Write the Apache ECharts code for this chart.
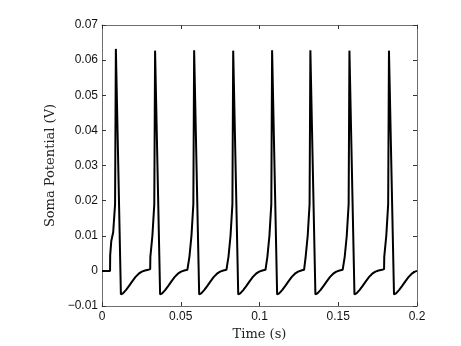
<!DOCTYPE html>
<html>
<head>
<meta charset="utf-8">
<script src="https://cdn.jsdelivr.net/npm/echarts@6/dist/echarts.min.js"></script>
<style>
  html, body { margin: 0; padding: 0; background: #fff; }
  #chart { width: 461px; height: 346px; }
</style>
</head>
<body>
<div id="chart"></div>
<script>
// time axis (s) and soma potential (V)
var timeS = [
  0.0000, 0.0051, 0.0052, 0.0059, 0.0071, 0.0083, 0.0088, 0.0092, 0.0120, 0.0133, 0.0153, 0.0173, 0.0193, 0.0213, 0.0233, 0.0253, 0.0273, 0.0293,
  0.0306, 0.0307, 0.0320, 0.0332, 0.0337, 0.0341, 0.0369, 0.0382, 0.0402, 0.0422, 0.0442, 0.0462, 0.0482, 0.0502, 0.0522, 0.0542,
  0.0554, 0.0555, 0.0568, 0.0580, 0.0585, 0.0589, 0.0617, 0.0630, 0.0650, 0.0670, 0.0690, 0.0710, 0.0730, 0.0750, 0.0770, 0.0790,
  0.0802, 0.0803, 0.0816, 0.0828, 0.0833, 0.0837, 0.0865, 0.0878, 0.0898, 0.0918, 0.0938, 0.0958, 0.0978, 0.0998, 0.1018, 0.1038,
  0.1049, 0.1050, 0.1063, 0.1075, 0.1080, 0.1084, 0.1112, 0.1125, 0.1145, 0.1165, 0.1185, 0.1205, 0.1225, 0.1245, 0.1265, 0.1283,
  0.1292, 0.1293, 0.1306, 0.1318, 0.1323, 0.1327, 0.1355, 0.1368, 0.1388, 0.1408, 0.1428, 0.1448, 0.1468, 0.1488, 0.1508, 0.1528,
  0.1540, 0.1541, 0.1554, 0.1566, 0.1571, 0.1575, 0.1603, 0.1616, 0.1636, 0.1656, 0.1676, 0.1696, 0.1716, 0.1736, 0.1756, 0.1778,
  0.1791, 0.1792, 0.1805, 0.1817, 0.1822, 0.1826, 0.1854, 0.1867, 0.1887, 0.1907, 0.1927, 0.1947, 0.1967, 0.1987, 0.2000
];
var somaV = [
  0, 0, 0.0045, 0.0085, 0.011, 0.019, 0.0632, 0.0629, -0.0067, -0.0064, -0.0054, -0.0042, -0.0029, -0.0017, -0.0008, -0.0002, 0.0001, 0.0003,
  0.0005, 0.004, 0.010, 0.019, 0.0627, 0.0624, -0.0067, -0.0064, -0.0054, -0.0042, -0.0029, -0.0017, -0.0008, -0.0002, 0.0001, 0.0003,
  0.0005, 0.004, 0.010, 0.019, 0.0628, 0.0625, -0.0067, -0.0064, -0.0054, -0.0042, -0.0029, -0.0017, -0.0008, -0.0002, 0.0001, 0.0003,
  0.0005, 0.004, 0.010, 0.019, 0.0627, 0.0624, -0.0067, -0.0064, -0.0054, -0.0042, -0.0029, -0.0017, -0.0008, -0.0002, 0.0001, 0.0003,
  0.0005, 0.004, 0.010, 0.019, 0.0628, 0.0625, -0.0067, -0.0064, -0.0054, -0.0042, -0.0029, -0.0017, -0.0008, -0.0002, 0.0001, 0.0003,
  0.0005, 0.004, 0.010, 0.019, 0.0628, 0.0625, -0.0067, -0.0064, -0.0054, -0.0042, -0.0029, -0.0017, -0.0008, -0.0002, 0.0001, 0.0003,
  0.0005, 0.004, 0.010, 0.019, 0.0627, 0.0624, -0.0067, -0.0064, -0.0054, -0.0042, -0.0029, -0.0017, -0.0008, -0.0002, 0.0001, 0.0003,
  0.0005, 0.004, 0.010, 0.019, 0.0627, 0.0624, -0.0067, -0.0064, -0.0054, -0.0042, -0.0029, -0.0017, -0.0008, -0.0002, 0.0000
];

var xTicks = { min: 0, max: 0.2, step: 0.05 };
var yTicks = { min: -0.01, max: 0.07, step: 0.01 };

var chart = echarts.init(document.getElementById('chart'));

var axisCol = '#6e6e6e';
var labelFont = 'Liberation Sans, Arial, sans-serif';
var nameFont = 'DejaVu Serif, Liberation Serif, serif';

function fmt(v) {
  var s = String(parseFloat(v.toFixed(3)));
  return s.replace('-', '\u2212');
}

function frameAxis(pos, r) {
  return {
    type: 'value',
    position: pos,
    min: r.min, max: r.max, interval: r.step,
    axisLine: { show: true, onZero: false, lineStyle: { color: axisCol, width: 1 } },
    axisTick: { show: true, inside: true, length: 4, lineStyle: { color: '#333' } },
    axisLabel: { show: false },
    splitLine: { show: false }
  };
}

var data = timeS.map(function (t, i) { return [t, somaV[i]]; });

chart.setOption({
  animation: false,
  grid: { left: 102, right: 44, top: 25, bottom: 37 },
  xAxis: [{
    type: 'value',
    position: 'bottom',
    min: xTicks.min, max: xTicks.max, interval: xTicks.step,
    name: 'Time (s)',
    nameLocation: 'middle',
    nameGap: 22,
    nameTextStyle: { fontFamily: nameFont, fontSize: 13, color: '#222' },
    axisLine: { show: true, onZero: false, lineStyle: { color: axisCol, width: 1 } },
    axisTick: { show: true, inside: true, length: 4, lineStyle: { color: '#333' } },
    axisLabel: { formatter: fmt, fontFamily: labelFont, fontSize: 12, color: '#111', margin: 5 },
    splitLine: { show: false }
  }, frameAxis('top', xTicks)],
  yAxis: [{
    type: 'value',
    position: 'left',
    min: yTicks.min, max: yTicks.max, interval: yTicks.step,
    name: 'Soma Potential (V)',
    nameLocation: 'middle',
    nameGap: 40,
    nameTextStyle: { fontFamily: nameFont, fontSize: 13, color: '#222' },
    axisLine: { show: true, onZero: false, lineStyle: { color: axisCol, width: 1 } },
    axisTick: { show: true, inside: true, length: 4, lineStyle: { color: '#333' } },
    axisLabel: { formatter: fmt, fontFamily: labelFont, fontSize: 12, color: '#111', margin: 4 },
    splitLine: { show: false }
  }, frameAxis('right', yTicks)],
  series: [{
    type: 'line',
    data: data,
    showSymbol: false,
    smooth: false,
    lineStyle: { color: '#000', width: 2 },
    clip: true
  }]
});
</script>
</body>
</html>
